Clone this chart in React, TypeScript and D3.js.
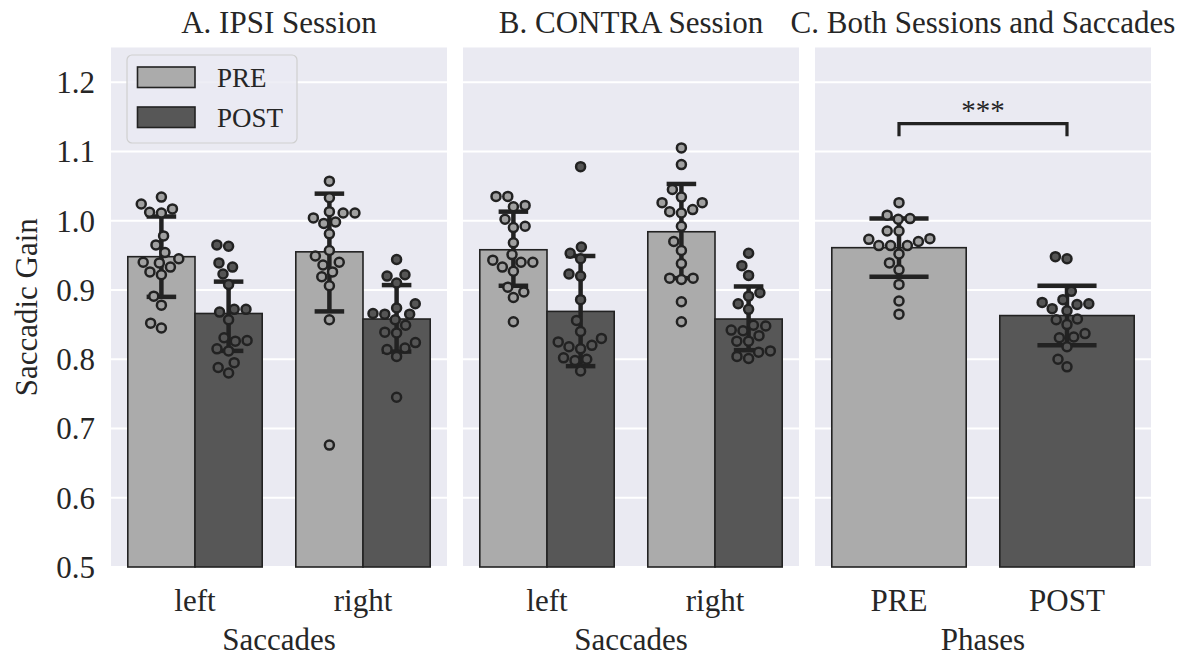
import React from 'react';
import * as d3 from 'd3';

// ---------------- DATA ----------------
const panelTitles = ['A. IPSI Session', 'B. CONTRA Session', 'C. Both Sessions and Saccades'];
const panelXLabels = ['Saccades', 'Saccades', 'Phases'];
const saccadeCats = ['left', 'right'];
const phaseCats = ['PRE', 'POST'];
const hueNames = ['PRE', 'POST'];
const yTicks = [0.5, 0.6, 0.7, 0.8, 0.9, 1.0, 1.1, 1.2];
const yDomain = [0.5, 1.25];

// Panel A (IPSI) : [category][hue]
const ipsiMeans = [[0.948, 0.866], [0.955, 0.858]];
const ipsiCI = [[[0.890, 1.006], [0.812, 0.912]], [[0.869, 1.039], [0.811, 0.907]]];
const ipsiLeftPre = [1.034, 1.024, 1.012, 1.011, 1.017, 0.978, 0.965, 0.954, 0.945, 0.939, 0.940, 0.933, 0.926, 0.922, 0.891, 0.878, 0.852, 0.845];
const ipsiLeftPost = [0.965, 0.963, 0.939, 0.933, 0.923, 0.908, 0.868, 0.872, 0.872, 0.857, 0.831, 0.826, 0.827, 0.815, 0.812, 0.795, 0.788, 0.780];
const ipsiRightPre = [1.057, 1.033, 1.011, 1.011, 1.013, 1.004, 0.996, 0.998, 0.981, 0.957, 0.949, 0.940, 0.936, 0.926, 0.919, 0.906, 0.857, 0.676];
const ipsiRightPost = [0.944, 0.920, 0.922, 0.910, 0.874, 0.880, 0.865, 0.865, 0.866, 0.857, 0.849, 0.838, 0.839, 0.824, 0.814, 0.816, 0.804, 0.745];

// Panel B (CONTRA)
const contraMeans = [[0.958, 0.869], [0.984, 0.858]];
const contraCI = [[[0.906, 1.013], [0.790, 0.949]], [[0.917, 1.053], [0.813, 0.905]]];
const contraLeftPre = [1.035, 1.035, 1.022, 1.020, 1.002, 0.992, 0.990, 0.968, 0.951, 0.943, 0.933, 0.940, 0.940, 0.927, 0.904, 0.897, 0.889, 0.854];
const contraLeftPost = [1.078, 0.962, 0.953, 0.945, 0.923, 0.920, 0.886, 0.856, 0.840, 0.825, 0.818, 0.820, 0.830, 0.815, 0.802, 0.798, 0.800, 0.783];
const contraRightPre = [1.105, 1.081, 1.045, 1.034, 1.026, 1.026, 1.013, 1.011, 1.016, 0.992, 0.970, 0.957, 0.938, 0.917, 0.915, 0.917, 0.883, 0.854];
const contraRightPost = [0.953, 0.935, 0.921, 0.896, 0.891, 0.880, 0.872, 0.849, 0.841, 0.842, 0.834, 0.848, 0.826, 0.826, 0.804, 0.801, 0.810, 0.812];

// Panel C (both sessions)
const bothMeans = [0.961, 0.863];
const bothCI = [[0.919, 1.003], [0.820, 0.906]];
const bothPre = [1.026, 1.003, 1.002, 1.008, 0.985, 0.985, 0.974, 0.970, 0.964, 0.964, 0.964, 0.973, 0.952, 0.939, 0.929, 0.908, 0.884, 0.865];
const bothPost = [0.948, 0.945, 0.898, 0.886, 0.882, 0.879, 0.880, 0.873, 0.870, 0.857, 0.858, 0.850, 0.831, 0.832, 0.837, 0.818, 0.800, 0.789];

// significance annotation (value space)
const sigText = '***';
const sigBarY = 1.14;
const sigTickY = 1.122;
const sigTextY = 1.168;

// ---------------- STYLE ----------------
const W = 1191;
const H = 657;
const panelX = [[111, 447], [463, 799], [815, 1151]];
const plotTop = 47.5;
const plotBottom = 567;
const bg = '#eaeaf2';
const barFill = ['#ababab', '#575757'];
const dotFill = ['#a0a0a0', '#555555'];
const edge = '#222222';
const textColor = '#262626';
const font = '"Liberation Serif", "Times New Roman", serif';
const fs = 31;

function beeswarm(ys: number[], cx: number, d: number): number[] {
  const order = ys.map((_, i) => i).sort((a, b) => ys[b] - ys[a]);
  const placed: { x: number; y: number }[] = [];
  const xs: number[] = new Array(ys.length).fill(cx);
  for (const i of order) {
    const y = ys[i];
    const nb = placed.filter((p) => Math.abs(p.y - y) < d);
    const cands = [cx];
    for (const n of nb) {
      const dy = y - n.y;
      const dx = Math.sqrt(Math.max(0, d * d - dy * dy));
      cands.push(n.x - dx, n.x + dx);
    }
    cands.sort((a, b) => Math.abs(a - cx) - Math.abs(b - cx));
    let chosen = cx;
    for (const c of cands) {
      if (nb.every((n) => (n.x - c) ** 2 + (n.y - y) ** 2 >= d * d - 1e-3)) {
        chosen = c;
        break;
      }
    }
    placed.push({ x: chosen, y });
    xs[i] = chosen;
  }
  return xs;
}

type Group = { cx: number; w: number; mean: number; ci: number[]; pts: number[]; hue: number };

export default function App() {
  const y = d3.scaleLinear().domain(yDomain).range([plotBottom, plotTop]);

  const panels: { cats: string[]; band: d3.ScaleBand<string>; groups: Group[] }[] = [];

  const hueData = [
    { means: ipsiMeans, ci: ipsiCI, pts: [[ipsiLeftPre, ipsiLeftPost], [ipsiRightPre, ipsiRightPost]] },
    { means: contraMeans, ci: contraCI, pts: [[contraLeftPre, contraLeftPost], [contraRightPre, contraRightPost]] },
  ];
  hueData.forEach((pd, pi) => {
    const band = d3.scaleBand<string>().domain(saccadeCats).range(panelX[pi] as [number, number]);
    const bw = band.bandwidth();
    const hw = (bw * 0.8) / hueNames.length;
    const groups: Group[] = [];
    saccadeCats.forEach((c, ci) => {
      hueNames.forEach((_, hi) => {
        const cx = (band(c) as number) + bw * 0.1 + hw * (hi + 0.5);
        groups.push({ cx, w: hw, mean: pd.means[ci][hi], ci: pd.ci[ci][hi], pts: pd.pts[ci][hi], hue: hi });
      });
    });
    panels.push({ cats: saccadeCats, band, groups });
  });
  {
    const band = d3.scaleBand<string>().domain(phaseCats).range(panelX[2] as [number, number]);
    const bw = band.bandwidth();
    const bothPts = [bothPre, bothPost];
    const groups: Group[] = phaseCats.map((c, i) => ({
      cx: (band(c) as number) + bw / 2,
      w: bw * 0.8,
      mean: bothMeans[i],
      ci: bothCI[i],
      pts: bothPts[i],
      hue: i,
    }));
    panels.push({ cats: phaseCats, band, groups });
  }

  const D = 11.8;
  const cPanel = panels[2];
  const c0 = cPanel.groups[0].cx;
  const c1 = cPanel.groups[1].cx;

  return (
    <svg width={W} height={H} style={{ position: 'absolute', left: 0, top: 0, background: '#fff' }} fontFamily={font}>
      {panels.map((p, pi) => {
        const [x0, x1] = panelX[pi];
        const bw = p.band.bandwidth();
        return (
          <g key={pi}>
            <rect x={x0} y={plotTop} width={x1 - x0} height={plotBottom - plotTop} fill={bg} />
            {yTicks.map((t) => (
              <line key={t} x1={x0} x2={x1} y1={y(t)} y2={y(t)} stroke="#fff" strokeWidth={2} />
            ))}
            {p.groups.map((g, gi) => (
              <rect key={'b' + gi} x={g.cx - g.w / 2} y={y(g.mean)} width={g.w} height={plotBottom - y(g.mean)}
                fill={barFill[g.hue]} stroke={edge} strokeWidth={1.6} />
            ))}
            {p.groups.map((g, gi) => {
              const cap = g.w * 0.22;
              return (
                <g key={'e' + gi} stroke={edge} strokeWidth={4.5}>
                  <line x1={g.cx} x2={g.cx} y1={y(g.ci[0])} y2={y(g.ci[1])} />
                  <line x1={g.cx - cap} x2={g.cx + cap} y1={y(g.ci[0])} y2={y(g.ci[0])} />
                  <line x1={g.cx - cap} x2={g.cx + cap} y1={y(g.ci[1])} y2={y(g.ci[1])} />
                </g>
              );
            })}
            {p.groups.map((g, gi) => {
              const ys = g.pts.map((v) => y(v));
              const xs = beeswarm(ys, g.cx, D);
              return (
                <g key={'p' + gi}>
                  {ys.map((yy, k) => (
                    <circle key={k} cx={xs[k]} cy={yy} r={4.5} fill={dotFill[g.hue]} stroke={edge} strokeWidth={2.5} />
                  ))}
                </g>
              );
            })}
            {p.cats.map((c) => (
              <text key={c} x={(p.band(c) as number) + bw / 2} y={611} textAnchor="middle" fontSize={fs} fill={textColor}>{c}</text>
            ))}
            <text x={(x0 + x1) / 2} y={650} textAnchor="middle" fontSize={fs} fill={textColor}>{panelXLabels[pi]}</text>
            <text x={(x0 + x1) / 2} y={33} textAnchor="middle" fontSize={fs} fill={textColor}>{panelTitles[pi]}</text>
          </g>
        );
      })}
      {yTicks.map((t) => (
        <text key={t} x={95} y={y(t)} dy="0.35em" textAnchor="end" fontSize={fs} fill={textColor}>{t.toFixed(1)}</text>
      ))}
      <text transform={`translate(37,${(plotTop + plotBottom) / 2}) rotate(-90)`} textAnchor="middle" fontSize={fs} fill={textColor}>Saccadic Gain</text>

      {/* legend */}
      <g>
        <rect x={127} y={55} width={170} height={88} rx={5} fill={bg} fillOpacity={0.8} stroke="#cfcfcf" strokeWidth={1.2} />
        {hueNames.map((h, i) => (
          <g key={h}>
            <rect x={137.5} y={67 + i * 40} width={57.5} height={20.5} fill={barFill[i]} stroke={edge} strokeWidth={1.6} />
            <text x={217} y={87 + i * 39.5} fontSize={27} fill={textColor}>{h}</text>
          </g>
        ))}
      </g>

      {/* significance bracket */}
      <path d={`M${c0},${y(sigTickY)} L${c0},${y(sigBarY)} L${c1},${y(sigBarY)} L${c1},${y(sigTickY)}`}
        fill="none" stroke={edge} strokeWidth={3.2} />
      <text x={(c0 + c1) / 2} y={y(sigTextY)} dy="0.55em" textAnchor="middle" fontSize={29} fill={textColor}>{sigText}</text>
    </svg>
  );
}
